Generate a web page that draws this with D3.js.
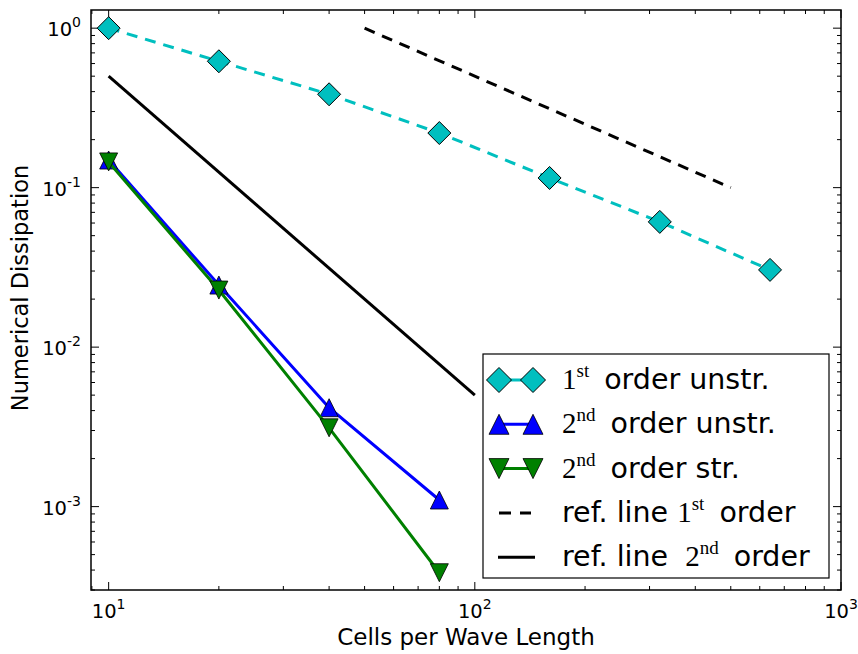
<!DOCTYPE html>
<html>
<head>
<meta charset="utf-8">
<script src="https://cdn.jsdelivr.net/npm/d3@7"></script>
<style>
  body { margin: 0; background: #fff; }
  text { font-family: "DejaVu Sans", sans-serif; }
  .serif { font-family: "Liberation Serif", "DejaVu Serif", serif; }
</style>
</head>
<body>
<svg id="chart" width="858" height="654"></svg>
<script>
// data
var cells1 = [10, 20, 40, 80, 160, 320, 640];
var diss1stUnstr = [1.0, 0.62, 0.385, 0.22, 0.115, 0.061, 0.0305];

var cells2 = [10, 20, 40, 80];
var diss2ndUnstr = [0.149, 0.0245, 0.00417, 0.0011];
var diss2ndStr = [0.145, 0.0228, 0.00312, 0.000385];

var ref1X = [50, 500], ref1Y = [1.0, 0.1];
var ref2X = [10, 100], ref2Y = [0.5, 0.005];

var xTicks = [10, 100, 1000];
var yTicks = [0.001, 0.01, 0.1, 1];

var svg = d3.select("#chart"),
    margin = {top: 10, right: 17, bottom: 64, left: 91},
    width = +svg.attr("width") - margin.left - margin.right,
    height = +svg.attr("height") - margin.top - margin.bottom;

var x = d3.scaleLog().domain([8.95, 1000]).range([0, width]);
var y = d3.scaleLog().domain([3.0e-4, 1.3]).range([height, 0]);

var g = svg.append("g")
    .attr("transform", "translate(" + margin.left + "," + margin.top + ")");

g.append("clipPath").attr("id", "clip")
  .append("rect").attr("width", width).attr("height", height);

// minor / major ticks, inward on all sides
function minors(dom) {
  var out = [];
  var lo = Math.floor(Math.log10(dom[0])), hi = Math.ceil(Math.log10(dom[1]));
  for (var e = lo; e <= hi; e++) {
    for (var k = 1; k < 10; k++) {
      var v = k * Math.pow(10, e);
      if (v >= dom[0] && v <= dom[1]) out.push({v: v, major: k === 1});
    }
  }
  return out;
}

var ticks = g.append("g").attr("stroke", "#000").attr("stroke-width", 1);
minors(x.domain()).forEach(function(t) {
  var len = t.major ? 8 : 4, px = x(t.v);
  ticks.append("line").attr("x1", px).attr("x2", px).attr("y1", height).attr("y2", height - len);
  ticks.append("line").attr("x1", px).attr("x2", px).attr("y1", 0).attr("y2", len);
});
minors(y.domain()).forEach(function(t) {
  var len = t.major ? 8 : 4, py = y(t.v);
  ticks.append("line").attr("y1", py).attr("y2", py).attr("x1", 0).attr("x2", len);
  ticks.append("line").attr("y1", py).attr("y2", py).attr("x1", width).attr("x2", width - len);
});

function expLabel(sel, v) {
  var e = Math.round(Math.log10(v));
  sel.append("tspan").text("10");
  sel.append("tspan").attr("font-size", 14).attr("dy", -9).text(e);
}

g.selectAll(".xlab").data(xTicks).enter().append("text")
    .attr("class", "xlab")
    .attr("x", function(d) { return x(d); })
    .attr("y", height + 28)
    .attr("text-anchor", "middle")
    .attr("font-size", 19.5)
    .each(function(d) { expLabel(d3.select(this), d); });

g.selectAll(".ylab").data(yTicks).enter().append("text")
    .attr("class", "ylab")
    .attr("x", -10)
    .attr("y", function(d) { return y(d) + 8; })
    .attr("text-anchor", "end")
    .attr("font-size", 19.5)
    .each(function(d) { expLabel(d3.select(this), d); });

svg.append("text")
    .attr("x", margin.left + width / 2)
    .attr("y", 645)
    .attr("text-anchor", "middle")
    .attr("font-size", 23)
    .text("Cells per Wave Length");

svg.append("text")
    .attr("transform", "translate(28," + 288 + ") rotate(-90)")
    .attr("text-anchor", "middle")
    .attr("font-size", 22.5)
    .text("Numerical Dissipation");

// series
var plot = g.append("g").attr("clip-path", "url(#clip)");
var line = d3.line().x(function(d) { return x(d[0]); }).y(function(d) { return y(d[1]); });

function diamond(sel, s) {
  sel.append("path")
      .attr("d", "M0," + (-s) + "L" + s + ",0L0," + s + "L" + (-s) + ",0Z")
      .attr("fill", "#00bfbf").attr("stroke", "#000").attr("stroke-width", 1);
}
function tri(sel, s, up, color) {
  var d = up ? "M0," + (-s) + "L" + s + "," + s + "L" + (-s) + "," + s + "Z"
             : "M0," + s + "L" + s + "," + (-s) + "L" + (-s) + "," + (-s) + "Z";
  sel.append("path").attr("d", d)
      .attr("fill", color).attr("stroke", "#000").attr("stroke-width", 0.8);
}

var pts1 = d3.zip(cells1, diss1stUnstr);
plot.append("path").datum(pts1).attr("d", line)
    .attr("fill", "none").attr("stroke", "#00bfbf").attr("stroke-width", 3)
    .attr("stroke-dasharray", "11,8");
pts1.forEach(function(p) {
  diamond(plot.append("g").attr("transform", "translate(" + x(p[0]) + "," + y(p[1]) + ")"), 11.5);
});

var pts2 = d3.zip(cells2, diss2ndUnstr);
plot.append("path").datum(pts2).attr("d", line)
    .attr("fill", "none").attr("stroke", "#0000ff").attr("stroke-width", 3);
pts2.forEach(function(p) {
  tri(plot.append("g").attr("transform", "translate(" + x(p[0]) + "," + y(p[1]) + ")"), 9, true, "#0000ff");
});

var pts3 = d3.zip(cells2, diss2ndStr);
plot.append("path").datum(pts3).attr("d", line)
    .attr("fill", "none").attr("stroke", "#008000").attr("stroke-width", 3);
pts3.forEach(function(p) {
  tri(plot.append("g").attr("transform", "translate(" + x(p[0]) + "," + y(p[1]) + ")"), 9, false, "#008000");
});

plot.append("path").datum(d3.zip(ref1X, ref1Y)).attr("d", line)
    .attr("fill", "none").attr("stroke", "#000").attr("stroke-width", 3)
    .attr("stroke-dasharray", "11,8");
plot.append("path").datum(d3.zip(ref2X, ref2Y)).attr("d", line)
    .attr("fill", "none").attr("stroke", "#000").attr("stroke-width", 3);

// frame
g.append("rect").attr("width", width).attr("height", height)
    .attr("fill", "none").attr("stroke", "#000").attr("stroke-width", 1.5);

// legend
var leg = svg.append("g").attr("transform", "translate(483,354)");
leg.append("rect").attr("width", 346).attr("height", 224)
    .attr("fill", "#fff").attr("stroke", "#000").attr("stroke-width", 1.2);

// [type, text, extra gap before]
var rows = [
  {kind: "dia", parts: [["s", "1"], ["sup", "st"], ["t", "order unstr.", 15]]},
  {kind: "up", parts: [["s", "2"], ["sup", "nd"], ["t", "order unstr.", 15]]},
  {kind: "down", parts: [["s", "2"], ["sup", "nd"], ["t", "order str.", 15]]},
  {kind: "dash", parts: [["t", "ref. line "], ["s", "1"], ["sup", "st"], ["t", "order", 15]]},
  {kind: "solid", parts: [["t", "ref. line "], ["s", "2", 8], ["sup", "nd"], ["t", "order", 15]]}
];

rows.forEach(function(r, i) {
  var cy = 26 + i * 44.3;
  var row = leg.append("g").attr("transform", "translate(0," + cy + ")");
  var x1 = 16, x2 = 50;
  if (r.kind === "dia") {
    row.append("line").attr("x1", x1).attr("x2", x2).attr("stroke", "#00bfbf").attr("stroke-width", 3);
    diamond(row.append("g").attr("transform", "translate(" + x1 + ",0)"), 12.5);
    diamond(row.append("g").attr("transform", "translate(" + x2 + ",0)"), 12.5);
  } else if (r.kind === "up" || r.kind === "down") {
    var c = r.kind === "up" ? "#0000ff" : "#008000";
    row.append("line").attr("x1", x1).attr("x2", x2).attr("stroke", c).attr("stroke-width", 3);
    tri(row.append("g").attr("transform", "translate(" + x1 + ",0)"), 10, r.kind === "up", c);
    tri(row.append("g").attr("transform", "translate(" + x2 + ",0)"), 10, r.kind === "up", c);
  } else if (r.kind === "dash") {
    row.append("line").attr("x1", x1).attr("x2", x2 - 2).attr("stroke", "#000").attr("stroke-width", 3)
        .attr("stroke-dasharray", "12,9");
  } else {
    row.append("line").attr("x1", x1 - 1).attr("x2", x2 + 2).attr("stroke", "#000").attr("stroke-width", 3);
  }
  var t = row.append("text").attr("x", 79).attr("y", 9).attr("font-size", 28.5)
      .style("white-space", "pre");
  var raised = false;
  r.parts.forEach(function(p) {
    var ts = t.append("tspan");
    if (p[2]) ts.attr("dx", p[2]);
    if (p[0] === "sup") {
      ts.attr("class", "serif").attr("font-size", 19).attr("dy", -12);
      raised = true;
    } else {
      if (raised) { ts.attr("dy", 12); raised = false; }
      if (p[0] === "s") ts.attr("class", "serif").attr("font-size", 29);
    }
    ts.text(p[1]);
  });
});
</script>
</body>
</html>
